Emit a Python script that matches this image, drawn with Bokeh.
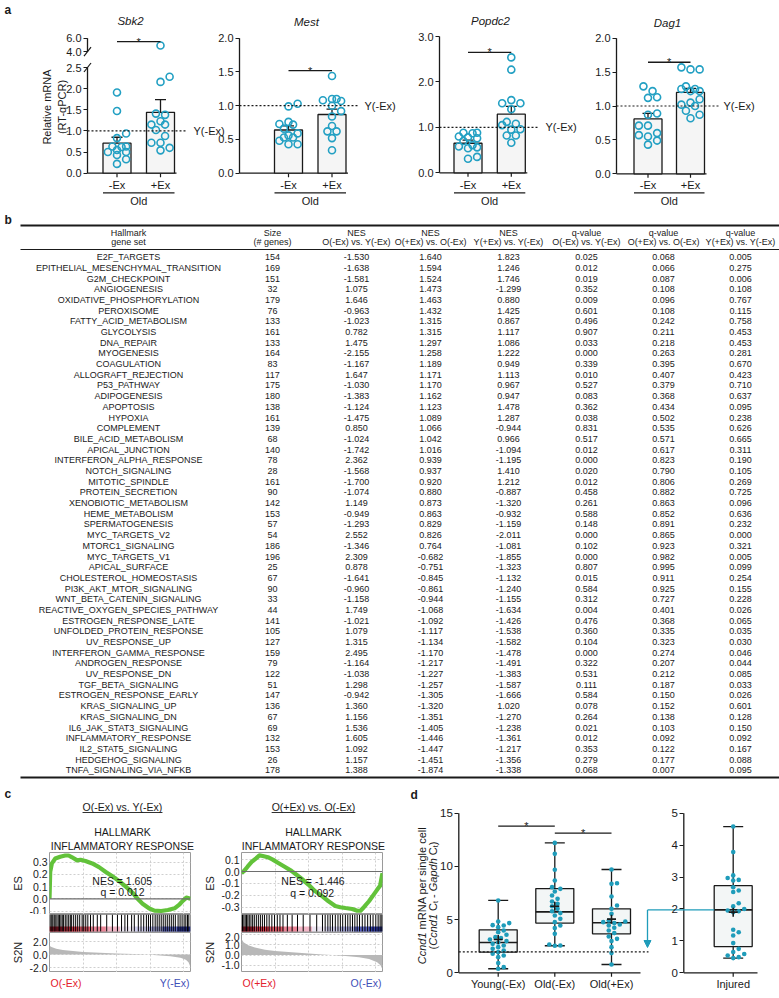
import numpy as np
from math import pi
from bokeh.plotting import figure
from bokeh.layouts import column, row
from bokeh.models import (Range1d, LinearAxis, FixedTicker, PrintfTickFormatter,
                          Span, Arrow, NormalHead)
from bokeh.core.properties import value
from bokeh.embed import file_html
from bokeh.resources import INLINE

FONT = "Liberation Sans"
INK = "#1a1a1a"
TEAL_A = "#23a0c3"
TEAL_D = "#1f9cba"

# ======================= DATA =======================
# ---- panel a : relative mRNA (RT-qPCR), Old -Ex / +Ex
a_genes = ["Sbk2", "Mest", "Popdc2", "Dag1"]
a_groups = ["-Ex", "+Ex"]
a_group_title = "Old"
young_ref_level = 1.0
young_ref_label = "Y(-Ex)"

sbk2_minus = [1.91, 1.47, 0.94, 0.83, 0.63, 0.63, 0.62, 0.55, 0.50, 0.50, 0.43, 0.33, 0.22]
sbk2_plus = [4.90, 2.28, 2.16, 1.41, 1.38, 1.23, 1.15, 1.15, 1.02, 0.88, 0.72, 0.72, 0.60, 0.54]
sbk2_mean = [0.71, 1.44]
sbk2_sem = [0.14, 0.30]

mest_minus = [1.03, 0.99, 0.76, 0.73, 0.72, 0.66, 0.59, 0.56, 0.53, 0.53, 0.48, 0.43, 0.43]
mest_plus = [1.44, 1.10, 1.10, 1.08, 1.07, 1.00, 0.92, 0.84, 0.70, 0.62, 0.62, 0.52, 0.34]
mest_mean = [0.64, 0.87]
mest_sem = [0.06, 0.08]

popdc2_minus = [0.88, 0.88, 0.87, 0.80, 0.78, 0.76, 0.70, 0.61, 0.58, 0.56, 0.54, 0.35, 0.31]
popdc2_plus = [2.54, 2.27, 1.60, 1.53, 1.53, 1.40, 1.12, 1.08, 1.05, 0.96, 0.95, 0.82, 0.82, 0.66]
popdc2_mean = [0.65, 1.29]
popdc2_sem = [0.07, 0.17]

dag1_minus = [1.29, 1.22, 1.13, 1.12, 0.89, 0.87, 0.71, 0.71, 0.60, 0.57, 0.55, 0.49, 0.43]
dag1_plus = [1.57, 1.54, 1.54, 1.29, 1.25, 1.25, 1.22, 1.22, 1.10, 1.05, 1.02, 1.00, 0.93, 0.87, 0.82]
dag1_mean = [0.81, 1.20]
dag1_sem = [0.08, 0.06]

# ---- panel b : GSEA hallmark table
b_header1 = ["Hallmark", "Size", "NES", "NES", "NES", "q-value", "q-value", "q-value"]
b_header2 = ["gene set", "(# genes)", "O(-Ex) vs. Y(-Ex)", "O(+Ex) vs. O(-Ex)", "Y(+Ex) vs. Y(-Ex)",
             "O(-Ex) vs. Y(-Ex)", "O(+Ex) vs. O(-Ex)", "Y(+Ex) vs. Y(-Ex)"]
gene_sets = ["E2F_TARGETS", "EPITHELIAL_MESENCHYMAL_TRANSITION", "G2M_CHECKPOINT", "ANGIOGENESIS",
             "OXIDATIVE_PHOSPHORYLATION", "PEROXISOME", "FATTY_ACID_METABOLISM", "GLYCOLYSIS",
             "DNA_REPAIR", "MYOGENESIS", "COAGULATION", "ALLOGRAFT_REJECTION", "P53_PATHWAY",
             "ADIPOGENESIS", "APOPTOSIS", "HYPOXIA", "COMPLEMENT", "BILE_ACID_METABOLISM",
             "APICAL_JUNCTION", "INTERFERON_ALPHA_RESPONSE", "NOTCH_SIGNALING", "MITOTIC_SPINDLE",
             "PROTEIN_SECRETION", "XENOBIOTIC_METABOLISM", "HEME_METABOLISM", "SPERMATOGENESIS",
             "MYC_TARGETS_V2", "MTORC1_SIGNALING", "MYC_TARGETS_V1", "APICAL_SURFACE",
             "CHOLESTEROL_HOMEOSTASIS", "PI3K_AKT_MTOR_SIGNALING", "WNT_BETA_CATENIN_SIGNALING",
             "REACTIVE_OXYGEN_SPECIES_PATHWAY", "ESTROGEN_RESPONSE_LATE", "UNFOLDED_PROTEIN_RESPONSE",
             "UV_RESPONSE_UP", "INTERFERON_GAMMA_RESPONSE", "ANDROGEN_RESPONSE", "UV_RESPONSE_DN",
             "TGF_BETA_SIGNALING", "ESTROGEN_RESPONSE_EARLY", "KRAS_SIGNALING_UP", "KRAS_SIGNALING_DN",
             "IL6_JAK_STAT3_SIGNALING", "INFLAMMATORY_RESPONSE", "IL2_STAT5_SIGNALING",
             "HEDGEHOG_SIGNALING", "TNFA_SIGNALING_VIA_NFKB"]
set_sizes = [154, 169, 151, 32, 179, 76, 133, 161, 133, 164, 83, 117, 175, 180, 138, 161, 139, 68, 140,
             78, 28, 161, 90, 142, 153, 57, 54, 186, 196, 25, 67, 90, 33, 44, 141, 105, 127, 159, 79,
             122, 51, 147, 136, 67, 69, 132, 153, 26, 178]
nes_oneg_vs_yneg = [-1.530, -1.638, -1.581, 1.075, 1.646, -0.963, -1.023, 0.782, 1.475, -2.155, -1.167,
                    1.647, -1.030, -1.383, -1.124, -1.475, 0.850, -1.024, -1.742, 2.362, -1.568, -1.700,
                    -1.074, 1.149, -0.949, -1.293, 2.552, -1.346, 2.309, 0.878, -1.641, -0.960, -1.158,
                    1.749, -1.021, 1.079, 1.315, 2.495, -1.164, -1.038, 1.298, -0.942, 1.360, 1.156,
                    1.536, 1.605, 1.092, 1.157, 1.388]
nes_opos_vs_oneg = [1.640, 1.594, 1.524, 1.473, 1.463, 1.432, 1.315, 1.315, 1.297, 1.258, 1.189, 1.171,
                    1.170, 1.162, 1.123, 1.089, 1.066, 1.042, 1.016, 0.939, 0.937, 0.920, 0.880, 0.873,
                    0.863, 0.829, 0.826, 0.764, -0.682, -0.751, -0.845, -0.861, -0.944, -1.068, -1.092,
                    -1.117, -1.134, -1.170, -1.217, -1.227, -1.257, -1.305, -1.320, -1.351, -1.405,
                    -1.446, -1.447, -1.451, -1.874]
nes_ypos_vs_yneg = [1.823, 1.246, 1.746, -1.299, 0.880, 1.425, 0.867, 1.117, 1.086, 1.222, 0.949, 1.113,
                    0.967, 0.947, 1.478, 1.287, -0.944, 0.966, -1.094, -1.195, 1.410, 1.212, -0.887,
                    -1.320, -0.932, -1.159, -2.011, -1.081, -1.855, -1.323, -1.132, -1.240, -1.155,
                    -1.634, -1.426, -1.538, -1.582, -1.478, -1.491, -1.383, -1.587, -1.666, 1.020,
                    -1.270, -1.238, -1.361, -1.217, -1.356, -1.338]
q_oneg_vs_yneg = [0.025, 0.012, 0.019, 0.352, 0.009, 0.601, 0.496, 0.907, 0.033, 0.000, 0.339, 0.010,
                  0.527, 0.083, 0.362, 0.038, 0.831, 0.517, 0.012, 0.000, 0.020, 0.012, 0.458, 0.261,
                  0.588, 0.148, 0.000, 0.102, 0.000, 0.807, 0.015, 0.584, 0.312, 0.004, 0.476, 0.360,
                  0.104, 0.000, 0.322, 0.531, 0.111, 0.584, 0.078, 0.264, 0.021, 0.012, 0.353, 0.279,
                  0.068]
q_opos_vs_oneg = [0.068, 0.066, 0.087, 0.108, 0.096, 0.108, 0.242, 0.211, 0.218, 0.263, 0.395, 0.407,
                  0.379, 0.368, 0.434, 0.502, 0.535, 0.571, 0.617, 0.823, 0.790, 0.806, 0.882, 0.863,
                  0.852, 0.891, 0.865, 0.923, 0.982, 0.995, 0.911, 0.925, 0.727, 0.401, 0.368, 0.335,
                  0.323, 0.274, 0.207, 0.212, 0.187, 0.150, 0.152, 0.138, 0.103, 0.092, 0.122, 0.177,
                  0.007]
q_ypos_vs_yneg = [0.005, 0.275, 0.006, 0.108, 0.767, 0.115, 0.758, 0.453, 0.453, 0.281, 0.670, 0.423,
                  0.710, 0.637, 0.095, 0.238, 0.626, 0.665, 0.311, 0.190, 0.105, 0.269, 0.725, 0.096,
                  0.636, 0.232, 0.000, 0.321, 0.005, 0.099, 0.254, 0.155, 0.228, 0.026, 0.065, 0.035,
                  0.030, 0.046, 0.044, 0.085, 0.033, 0.026, 0.601, 0.128, 0.150, 0.092, 0.167, 0.088,
                  0.095]

# ---- panel c : GSEA enrichment plots (HALLMARK INFLAMMATORY RESPONSE)
N_RANK = 21000
rank_grid = [5000, 10000, 15000, 20000]
c_titles = ["O(-Ex) vs. Y(-Ex)", "O(+Ex) vs. O(-Ex)"]
c_geneset = ["HALLMARK", "INFLAMMATORY RESPONSE"]
c_nes = ["NES = 1.605", "NES = -1.446"]
c_q = ["q = 0.012", "q = 0.092"]
c_phenos = [("O(-Ex)", "Y(-Ex)"), ("O(+Ex)", "O(-Ex)")]

es_left_rank = [0, 105, 357, 861, 1596, 2352, 2856, 3360, 4116, 4620, 5355, 6363, 7371, 8379, 9366,
                10374, 11361, 12369, 13125, 13860, 14868, 15624, 16632, 17640, 18627, 19383, 19887,
                20391, 20748, 21000]
es_left_val = [0.0, 0.22, 0.29, 0.33, 0.345, 0.355, 0.355, 0.34, 0.315, 0.32, 0.31, 0.29, 0.26, 0.22,
               0.185, 0.145, 0.10, 0.05, 0.0, -0.04, -0.08, -0.097, -0.10, -0.092, -0.078, -0.045,
               -0.015, 0.01, 0.005, 0.0]
es_right_rank = [0, 399, 903, 1512, 2163, 2667, 3171, 3927, 4662, 5418, 6426, 7434, 8190, 8946, 9954,
                 10962, 11949, 12957, 13965, 14721, 15477, 16485, 17241, 17724, 18228, 18984, 19740,
                 20244, 20643, 20853, 21000]
es_right_val = [-0.014, 0.005, 0.04, 0.08, 0.11, 0.135, 0.13, 0.12, 0.10, 0.074, 0.04, 0.005, -0.027,
                -0.06, -0.11, -0.165, -0.205, -0.25, -0.29, -0.30, -0.307, -0.315, -0.33, -0.33, -0.30,
                -0.25, -0.19, -0.15, -0.12, -0.055, -0.014]
hits_left = [200, 350, 500, 700, 850, 1100, 1300, 1500, 1700, 1900, 2100, 2350, 2600, 2860, 3100, 3300,
             3600, 3900, 4200, 4500, 4860, 5100, 5400, 5710, 6110, 6520, 7120, 7620, 8520, 9370, 10120,
             10730, 11230, 11630, 12230, 12630, 13230, 13630, 14030, 14430, 14740, 15040, 15390, 15740,
             16040, 16340, 16640, 16940, 17240, 17540, 17840, 18140, 18440, 18740, 19150, 19450, 19750,
             20050, 20300, 20550, 20750]
hits_right = [150, 350, 550, 750, 950, 1160, 1410, 1660, 1910, 2210, 2510, 2810, 3110, 3420, 3770, 4120,
              4520, 4920, 5330, 5730, 6180, 6830, 7540, 8340, 9190, 10200, 11200, 12060, 12460, 12860,
              13210, 13560, 13970, 14370, 14720, 15070, 15470, 15830, 16180, 16530, 16880, 17230, 17580,
              17990, 18390, 18790, 19190, 19590, 20000, 20350, 20650, 20900]
s2n_left_rank = [0, 300, 1000, 2000, 3500, 5000, 7500, 10000, 12500, 14000, 16000, 18000, 19500, 20300,
                 20700, 20900, 21000]
s2n_left_val = [1.35, 1.15, 0.90, 0.70, 0.52, 0.40, 0.27, 0.17, 0.08, 0.02, -0.10, -0.28, -0.50, -0.80,
                -1.20, -1.70, -2.40]
s2n_right_rank = [0, 300, 1000, 2000, 3500, 5000, 7500, 10000, 12000, 13500, 15500, 17500, 19000, 20200,
                  20700, 21000]
s2n_right_val = [1.55, 1.25, 0.95, 0.72, 0.52, 0.40, 0.26, 0.15, 0.06, 0.0, -0.10, -0.22, -0.40, -0.70,
                 -1.00, -1.40]
strip_colors = ["#d7263d", "#dd3a4c", "#e25a69", "#ea8597", "#f1b6c6", "#ece6f2", "#d1cfee", "#a9abe0",
                "#5d66c4", "#2f3aa6"]

# ---- panel d : Ccnd1 per single cell (box plots)
d_groups = ["Young(-Ex)", "Old(-Ex)", "Old(+Ex)"]
young_cells = [6.80, 4.82, 4.67, 4.48, 4.45, 4.29, 3.98, 3.82, 3.57, 3.35, 3.26, 3.13, 2.98, 2.85, 2.72,
               2.57, 2.41, 2.25, 2.10, 1.94, 1.79, 1.63, 1.47, 0.91, 0.53, 0.38]
old_neg_cells = [12.21, 11.18, 9.68, 8.68, 8.05, 7.89, 7.64, 7.27, 6.95, 6.70, 6.48, 6.26, 6.01, 5.79,
                 5.61, 5.39, 5.07, 4.76, 4.45, 4.20, 3.66, 2.66, 2.57, 2.54]
old_pos_cells = [9.71, 8.42, 8.36, 7.17, 6.33, 6.01, 5.54, 4.92, 4.82, 4.76, 4.67, 4.54, 4.45, 4.23, 3.98,
                 3.73, 3.41, 3.19, 2.98, 2.41, 1.85, 0.78]
injured_cells = [4.58, 3.78, 3.05, 2.97, 2.91, 2.89, 2.68, 2.58, 2.53, 2.18, 2.08, 2.00, 1.95, 1.93, 1.90,
                 1.35, 1.27, 1.17, 0.93, 0.75, 0.65, 0.59, 0.54, 0.49, 0.46]
# box statistics: min, q1, median, q3, max, mean
d_min = [0.38, 2.54, 0.78]
d_q1 = [1.94, 4.67, 3.66]
d_med = [2.85, 5.73, 4.70]
d_q3 = [4.04, 7.92, 6.01]
d_max = [6.80, 12.21, 9.71]
d_mean = [3.13, 6.26, 5.04]
inj_stats = dict(min=0.46, q1=0.82, med=1.97, q3=2.73, max=4.58, mean=1.90)
inj_label = "Injured"

# ======================= HELPERS =======================
CW = {' ': 278, '(': 333, ')': 333, '-': 333, '.': 278, '=': 584, '+': 584, '#': 556, '_': 556,
      'A': 667, 'B': 667, 'C': 722, 'D': 722, 'E': 667, 'F': 611, 'G': 778, 'H': 722, 'I': 278,
      'K': 667, 'L': 556, 'M': 833, 'N': 722, 'O': 778, 'P': 667, 'Q': 778, 'R': 722, 'S': 667,
      'T': 611, 'U': 722, 'V': 667, 'W': 944, 'X': 667, 'Y': 667, 'a': 556, 'b': 556, 'c': 500,
      'd': 556, 'e': 556, 'f': 278, 'g': 556, 'h': 556, 'i': 222, 'j': 222, 'k': 500, 'l': 222,
      'm': 833, 'n': 556, 'o': 556, 'p': 556, 'q': 556, 'r': 333, 's': 500, 't': 278, 'u': 556,
      'v': 500, 'w': 722, 'x': 500, 'y': 500, 'z': 500}


def textw(s, px):
    return sum(CW.get(ch, 556) for ch in s) / 1000.0 * px


def canvas(x0, x1, y0, y1):
    p = figure(width=x1 - x0, height=y1 - y0, x_range=Range1d(x0, x1), y_range=Range1d(-y1, -y0),
               x_axis_location=None, y_axis_location=None, output_backend="svg",
               toolbar_location=None, min_border_left=0, min_border_right=0,
               min_border_top=0, min_border_bottom=0)
    p.outline_line_color = None
    p.grid.visible = False
    return p


def txt(p, x, y, s, size="11px", align="center", style="normal", color=INK, angle=0.0,
        baseline="middle"):
    p.text(x=[x], y=[-y], text=[s], text_font=value(FONT), text_font_size=size,
           text_align=align, text_baseline=baseline, text_font_style=style,
           text_color=color, angle=angle)


def seg(p, x0, y0, x1, y1, color=INK, width=1.3, dash="solid"):
    p.segment(x0=[x0], y0=[-y0], x1=[x1], y1=[-y1], line_color=color, line_width=width,
              line_dash=dash)


def swarm(py, center, diam, limit):
    step = diam * 0.6
    cands = [0.0]
    k = 1
    while k * step <= limit:
        cands += [k * step, -k * step]
        k += 1
    placed, out = [], [0.0] * len(py)
    for i in sorted(range(len(py)), key=lambda j: py[j]):
        y = py[i]
        best = None
        for dx in cands:
            if all((dx - qx) ** 2 + (y - qy) ** 2 >= diam ** 2 for qx, qy in placed):
                best = dx
                break
        if best is None:
            best = max(cands, key=lambda dx: min(((dx - qx) ** 2 + (y - qy) ** 2) for qx, qy in placed))
        placed.append((best, y))
        out[i] = center + best
    return out


def y_axis(rname, loc, ticks, labels, size="11px", tick_out=4):
    return LinearAxis(y_range_name=rname, fixed_location=loc, ticker=FixedTicker(ticks=ticks),
                      major_label_overrides={t: l for t, l in zip(ticks, labels)},
                      axis_line_color=None, major_tick_out=tick_out, major_tick_in=0,
                      minor_tick_out=0, minor_tick_in=0, major_tick_line_color=INK,
                      major_tick_line_width=1.2, major_label_text_font=FONT,
                      major_label_text_font_size=size, major_label_text_color=INK,
                      major_label_standoff=2)


# ======================= PANEL A =======================
SBK2_GAP, SBK2_UP = 0.378, 0.157


def sbk2_t(v):
    return v if v <= 2.5 else 2.5 + SBK2_GAP + (v - 4.0) * SBK2_UP


def ident(v):
    return v


A_SPEC = {
    "Sbk2": dict(axis=87, c=(116.5, 160.0), zero=172.7, ppu=42.28, ticks=[0, 0.5, 1, 1.5, 2, 2.5, 4, 6],
                 dot_end=185, lab_x=193, tx=130, ty=20.7, sig=5.5, T=sbk2_t),
    "Mest": dict(axis=239, c=(288.0, 331.5), zero=172.7, ppu=67.5, ticks=[0, 0.5, 1, 1.5, 2],
                 dot_end=358, lab_x=364, tx=306, ty=21, sig=1.52, T=ident),
    "Popdc2": dict(axis=439, c=(467.5, 510.8), zero=172.3, ppu=45.43, ticks=[0, 1, 2, 3],
                   dot_end=537, lab_x=545, tx=490, ty=20, sig=2.65, T=ident),
    "Dag1": dict(axis=616, c=(647.5, 690.0), zero=173.3, ppu=67.8, ticks=[0, 0.5, 1, 1.5, 2],
                 dot_end=718, lab_x=723, tx=667, ty=22, sig=1.645, T=ident),
}
A_DATA = {"Sbk2": (sbk2_minus, sbk2_plus, sbk2_mean, sbk2_sem),
          "Mest": (mest_minus, mest_plus, mest_mean, mest_sem),
          "Popdc2": (popdc2_minus, popdc2_plus, popdc2_mean, popdc2_sem),
          "Dag1": (dag1_minus, dag1_plus, dag1_mean, dag1_sem)}

A_TOP, A_BOT = 0, 205
pa = canvas(0, 779, A_TOP, A_BOT)
txt(pa, 4, 9, "a", size="12px", style="bold", align="left")
extra = {}
for g in a_genes:
    s = A_SPEC[g]
    extra[g] = Range1d((s["zero"] - A_BOT) / s["ppu"], (s["zero"] - A_TOP) / s["ppu"])
pa.extra_y_ranges = extra

BW = 28
for g in a_genes:
    s, T = A_SPEC[g], A_SPEC[g]["T"]
    minus, plus, mean, sem = A_DATA[g]
    ax_x, c, ppu = s["axis"], s["c"], s["ppu"]
    ticks_t = [T(v) for v in s["ticks"]]
    pa.add_layout(y_axis(g, ax_x, ticks_t, ["%.1f" % v for v in s["ticks"]]), "left")
    if g == "Sbk2":
        pa.segment(x0=[ax_x, ax_x], y0=[0, T(4.0)], x1=[ax_x, ax_x], y1=[2.5, T(6.0)], y_range_name=g,
                   line_color=INK, line_width=1.3)
        for v in (2.5, 4.0):
            py = s["zero"] - T(v) * ppu
            seg(pa, ax_x - 3.5, py + 4.5, ax_x + 3.5, py - 4.5, width=1.2)
    else:
        pa.segment(x0=[ax_x], y0=[0], x1=[ax_x], y1=[T(s["ticks"][-1])], y_range_name=g,
                   line_color=INK, line_width=1.3)
    # x axis line + ticks
    pa.segment(x0=[ax_x], y0=[0], x1=[c[1] + BW / 2 + 2], y1=[0], y_range_name=g,
               line_color=INK, line_width=1.3)
    pa.segment(x0=list(c), y0=[0, 0], x1=list(c), y1=[-4 / ppu] * 2, y_range_name=g,
               line_color=INK, line_width=1.2)
    # bars + SEM
    pa.vbar(x=list(c), top=[T(m) for m in mean], bottom=0, width=BW, y_range_name=g,
            fill_color="#f5f5f5", line_color=INK, line_width=1.3)
    tops = [T(m + e) for m, e in zip(mean, sem)]
    pa.segment(x0=list(c), y0=[T(m) for m in mean], x1=list(c), y1=tops, y_range_name=g,
               line_color=INK, line_width=1.3)
    pa.segment(x0=[ci - 5.5 for ci in c], y0=tops, x1=[ci + 5.5 for ci in c], y1=tops, y_range_name=g,
               line_color=INK, line_width=1.3)
    # points
    for ci, vals in zip(c, (minus, plus)):
        xs = swarm([T(v) * ppu for v in vals], ci, 7.6, 12.5)
        pa.scatter(x=xs, y=[T(v) for v in vals], size=7, marker="circle", fill_color=None,
                   line_color=TEAL_A, line_width=1.6, y_range_name=g)
    # young reference
    pa.segment(x0=[ax_x], y0=[T(young_ref_level)], x1=[s["dot_end"]], y1=[T(young_ref_level)],
               y_range_name=g, line_color=INK, line_width=1.2, line_dash="2 2")
    pa.text(x=[s["lab_x"]], y=[T(young_ref_level)], text=[young_ref_label], y_range_name=g,
            text_font=value(FONT), text_font_size="11px", text_align="left", text_baseline="middle",
            text_color=INK)
    # significance
    sy = T(s["sig"])
    pa.segment(x0=[c[0]], y0=[sy], x1=[c[1]], y1=[sy], y_range_name=g, line_color=INK, line_width=1.3)
    pa.text(x=[(c[0] + c[1]) / 2], y=[sy], text=["*"], y_range_name=g, text_font=value(FONT),
            text_font_size="11px", text_align="center", text_baseline="alphabetic", text_color=INK)
    # category labels + group bracket
    for ci, lab in zip(c, a_groups):
        txt(pa, ci, 184, lab)
    seg(pa, c[0] - BW / 2, 192.3, c[1] + BW / 2, 192.3, width=1.3)
    txt(pa, (c[0] + c[1]) / 2, 200, a_group_title)
    txt(pa, s["tx"], s["ty"], g, size="11.5px", style="italic")

txt(pa, 46.7, 106.5, "Relative mRNA", angle=pi / 2)
txt(pa, 61.7, 106.5, "(RT-qPCR)", angle=pi / 2)

# ======================= PANEL B (table) =======================
ROW0, ROWSTEP = 256.7, 10.69
def rowy(px):
    return (px - ROW0) / ROWSTEP

pb = figure(width=779, height=580, x_range=Range1d(0, 779),
            y_range=Range1d(rowy(785), rowy(205)), x_axis_location=None, y_axis_location=None,
            output_backend="svg", toolbar_location=None, min_border_left=0, min_border_right=0,
            min_border_top=0, min_border_bottom=0)
pb.outline_line_color = None
pb.grid.visible = False
col_x = [128, 272, 356, 430, 508, 586, 663, 740]
cols = [gene_sets, [str(v) for v in set_sizes]] + [["%.3f" % v for v in arr] for arr in
        (nes_oneg_vs_yneg, nes_opos_vs_oneg, nes_ypos_vs_yneg, q_oneg_vs_yneg, q_opos_vs_oneg,
         q_ypos_vs_yneg)]
rows_idx = list(range(len(gene_sets)))
for cx, texts, h1, h2 in zip(col_x, cols, b_header1, b_header2):
    pb.text(x=[cx] * len(texts), y=rows_idx, text=texts, text_font=value(FONT), text_font_size="9px",
            text_align="center", text_baseline="middle", text_color=INK)
    pb.text(x=[cx, cx], y=[rowy(232), rowy(241.7)], text=[h1, h2], text_font=value(FONT),
            text_font_size="9px", text_align="center", text_baseline="middle", text_color=INK)
pb.segment(x0=[20, 20, 20], y0=[rowy(225), rowy(249), rowy(777)], x1=[779, 779, 779],
           y1=[rowy(225), rowy(249), rowy(777)], line_color=INK, line_width=[2.0, 1.2, 2.0])
pb.text(x=[4], y=[rowy(219)], text=["b"], text_font=value(FONT), text_font_size="12px",
        text_font_style="bold", text_align="left", text_baseline="middle", text_color=INK)

# ======================= PANEL C (GSEA) =======================
pc_head = canvas(0, 395, 785, 852)
txt(pc_head, 4, 793, "c", size="12px", style="bold", align="left")
for cx, ttl in zip((122, 313), c_titles):
    txt(pc_head, cx, 806, ttl, size="10.5px")
    w = textw(ttl, 10.5)
    seg(pc_head, cx - w / 2, 812, cx + w / 2, 812, width=0.9)
    txt(pc_head, cx, 831.7, c_geneset[0], size="10.5px")
    txt(pc_head, cx, 845, c_geneset[1], size="10.5px")


def gsea_fig(width, height, yr, lb, rb, yticks=None, label=None):
    p = figure(width=width, height=height, x_range=Range1d(0, N_RANK), y_range=Range1d(*yr),
               output_backend="svg", toolbar_location=None,
               x_axis_location="below", y_axis_location=("left" if yticks else None),
               min_border_left=lb, min_border_right=rb, min_border_top=0, min_border_bottom=0)
    p.xaxis.visible = False
    p.outline_line_color = "#9a9a9a"
    if yticks:
        p.xaxis.ticker = FixedTicker(ticks=rank_grid)
        p.xgrid.ticker = FixedTicker(ticks=rank_grid)
        p.yaxis.ticker = FixedTicker(ticks=yticks)
        p.ygrid.ticker = FixedTicker(ticks=yticks)
        p.yaxis.formatter = PrintfTickFormatter(format="%.1f")
        p.yaxis.axis_line_color = None
        p.yaxis.major_tick_out = 0
        p.yaxis.major_tick_in = 0
        p.yaxis.minor_tick_out = 0
        p.yaxis.minor_tick_in = 0
        p.yaxis.major_label_standoff = 2
        p.yaxis.major_label_text_font = FONT
        p.yaxis.major_label_text_font_size = "10.5px"
        p.yaxis.major_label_text_color = INK
        p.yaxis.axis_label = label
        p.yaxis.axis_label_text_font = FONT
        p.yaxis.axis_label_text_font_size = "11px"
        p.yaxis.axis_label_text_font_style = "normal"
        p.yaxis.axis_label_text_color = INK
        p.yaxis.axis_label_standoff = 2
        p.grid.grid_line_color = "#cfcfcf"
        p.grid.grid_line_dash = "2 2"
    else:
        p.grid.visible = False
    return p


def es_panel(width, lb, rb, yr, ticks, rank, es, nes, q, nes_pos, q_pos):
    p = gsea_fig(width, 62, yr, lb, rb, ticks, "ES")
    p.add_layout(Span(location=0, dimension="width", line_color="#6e6e6e", line_width=1.2))
    p.line(rank, es, line_color="#62c23a", line_width=4.2, line_join="round")
    p.text(x=[nes_pos[0], q_pos[0]], y=[nes_pos[1], q_pos[1]], text=[nes, q], text_font=value(FONT),
           text_font_size="10.5px", text_align="center", text_baseline="middle", text_color=INK)
    return p


def hit_panel(width, lb, rb, hits):
    p = gsea_fig(width, 18, (0, 1), lb, rb)
    edges = np.linspace(0, N_RANK, len(strip_colors) + 1)
    p.quad(left=edges[:-1], right=edges[1:], bottom=0.06, top=0.33, fill_color=strip_colors,
           line_color=None)
    p.segment(x0=hits, y0=0.06, x1=hits, y1=1.0, line_color="black", line_width=1.0)
    return p


def s2n_panel(width, lb, rb, yr, ticks, rank, val):
    p = gsea_fig(width, 40, yr, lb, rb, ticks, "S2N")
    p.varea(x=rank, y1=[0] * len(rank), y2=val, fill_color="#b8b8b8")
    return p


es_l = es_panel(200, 49, 10, (-(914 - 898.3) / 122, (898.3 - 852) / 122), [-0.1, 0.0, 0.1, 0.2, 0.3],
                es_left_rank, es_left_val, c_nes[0], c_q[0], (10830, 0.150), (10870, 0.052))
es_r = es_panel(195, 41, 13, (-(914 - 871) / 119, (871 - 852) / 119), [-0.3, -0.2, -0.1, 0.0, 0.1],
                es_right_rank, es_right_val, c_nes[1], c_q[1], (10650, -0.076), (10525, -0.179))
hit_l = hit_panel(200, 49, 10, hits_left)
hit_r = hit_panel(195, 41, 13, hits_right)
s2n_l = s2n_panel(200, 49, 10, (-(972 - 954) / 6.5, (954 - 932) / 6.5), [-2, 0, 2],
                  s2n_left_rank, s2n_left_val)
s2n_r = s2n_panel(195, 41, 13, (-(972 - 954.5) / 10.3, (954.5 - 932) / 10.3), [-1, 0, 1, 2],
                  s2n_right_rank, s2n_right_val)

pc_foot = canvas(0, 395, 972, 998)
RED, BLUE = "#e3202d", "#3f4fb8"
for (lo, hi), (fl, fr) in zip(c_phenos, ((49, 190), (241, 382))):
    txt(pc_foot, fl + 1, 982, lo, size="10.5px", align="left", color=RED)
    txt(pc_foot, fr - 1, 982, hi, size="10.5px", align="right", color=BLUE)

# ======================= PANEL D (box plots) =======================
D_TOP, D_BOT = 785, 998
pd = canvas(395, 779, D_TOP, D_BOT)
D_ZERO, D_PPU, I_PPU = 972.3, 10.64, 31.93
pd.extra_y_ranges = {"ccnd": Range1d((D_ZERO - D_BOT) / D_PPU, (D_ZERO - D_TOP) / D_PPU),
                     "inj": Range1d((D_ZERO - D_BOT) / I_PPU, (D_ZERO - D_TOP) / I_PPU)}
L_AX, R_AX = 458.3, 683.3
d_x = [497.7, 554.3, 611.0]
inj_x = 732.7
BOXW = 38
txt(pd, 410, 794, "d", size="12px", style="bold", align="left")

lt = [0, 5, 10, 15]
pd.add_layout(y_axis("ccnd", L_AX, lt, [str(t) for t in lt], size="11.5px"), "left")
rt = [0, 1, 2, 3, 4, 5]
pd.add_layout(y_axis("inj", R_AX, rt, [str(t) for t in rt], size="11.5px"), "left")
pd.segment(x0=[L_AX], y0=[0], x1=[L_AX], y1=[lt[-1]], y_range_name="ccnd", line_color=INK, line_width=1.3)
pd.segment(x0=[R_AX], y0=[0], x1=[R_AX], y1=[rt[-1]], y_range_name="inj", line_color=INK, line_width=1.3)
pd.segment(x0=[L_AX], y0=[0], x1=[640], y1=[0], y_range_name="ccnd", line_color=INK, line_width=1.3)
pd.segment(x0=[R_AX], y0=[0], x1=[757], y1=[0], y_range_name="inj", line_color=INK, line_width=1.3)
pd.segment(x0=d_x, y0=[0] * 3, x1=d_x, y1=[-4 / D_PPU] * 3, y_range_name="ccnd", line_color=INK,
           line_width=1.2)
pd.segment(x0=[inj_x], y0=[0], x1=[inj_x], y1=[-4 / I_PPU], y_range_name="inj", line_color=INK,
           line_width=1.2)
for cx, lab in zip(d_x, d_groups):
    txt(pd, cx, 983.3, lab, size="11px")
txt(pd, inj_x, 983.3, inj_label, size="11px")


def boxes(rname, xs, mn, q1, md, q3, mx, mean, sets, ppu):
    pd.vbar(x=xs, bottom=q1, top=q3, width=BOXW, y_range_name=rname, fill_color="#f3f6f6",
            line_color=INK, line_width=1.3)
    pd.segment(x0=xs, y0=q3, x1=xs, y1=mx, y_range_name=rname, line_color=INK, line_width=1.3)
    pd.segment(x0=xs, y0=q1, x1=xs, y1=mn, y_range_name=rname, line_color=INK, line_width=1.3)
    for ys in (mn, mx):
        pd.segment(x0=[x - 10 for x in xs], y0=ys, x1=[x + 10 for x in xs], y1=ys, y_range_name=rname,
                   line_color=INK, line_width=1.3)
    pd.segment(x0=[x - BOXW / 2 for x in xs], y0=md, x1=[x + BOXW / 2 for x in xs], y1=md,
               y_range_name=rname, line_color=INK, line_width=1.6)
    for x, vals in zip(xs, sets):
        px = swarm([v * ppu for v in vals], x, 4.6, 15)
        pd.scatter(x=px, y=vals, size=4.6, marker="circle", fill_color=TEAL_D, line_color=None,
                   y_range_name=rname)
    pd.scatter(x=xs, y=mean, marker="cross", size=9, line_color=INK, line_width=1.6, y_range_name=rname)


boxes("ccnd", d_x, d_min, d_q1, d_med, d_q3, d_max, d_mean,
      (young_cells, old_neg_cells, old_pos_cells), D_PPU)
boxes("inj", [inj_x], [inj_stats["min"]], [inj_stats["q1"]], [inj_stats["med"]], [inj_stats["q3"]],
      [inj_stats["max"]], [inj_stats["mean"]], (injured_cells,), I_PPU)

# injured median carried to the left scale
pd.segment(x0=[L_AX], y0=[inj_stats["med"]], x1=[648], y1=[inj_stats["med"]], y_range_name="ccnd",
           line_color=INK, line_width=1.2, line_dash="2 2")
pd.segment(x0=[647], y0=[inj_stats["med"]], x1=[inj_x - BOXW / 2], y1=[inj_stats["med"]],
           y_range_name="inj", line_color=TEAL_D, line_width=1.3)
py_med = D_ZERO - inj_stats["med"] * I_PPU
pd.add_layout(Arrow(end=NormalHead(size=7, fill_color=TEAL_D, line_color=TEAL_D), x_start=647,
                    y_start=-py_med, x_end=647, y_end=-947, line_color=TEAL_D, line_width=1.3))

# significance
pd.segment(x0=[d_x[0], d_x[1]], y0=[13.78, 13.12], x1=[d_x[1], d_x[2]], y1=[13.78, 13.12],
           y_range_name="ccnd", line_color=INK, line_width=1.3)
pd.text(x=[(d_x[0] + d_x[1]) / 2, (d_x[1] + d_x[2]) / 2], y=[13.78, 13.12], text=["*", "*"],
        y_range_name="ccnd", text_font=value(FONT), text_font_size="11px", text_align="center",
        text_baseline="alphabetic", text_color=INK)


# rotated axis label with italics / subscripts (spaces handled by offsets, SVG trims them)
def rot_line(p, x, yc, pieces, size=11.0):
    total = sum(textw(s, size * (0.65 if sub else 1.0)) for s, st, sub in pieces)
    y = -yc - total / 2
    for s, st, sub in pieces:
        fs = size * (0.65 if sub else 1.0)
        lead = len(s) - len(s.lstrip(" "))
        p.text(x=[x + (2.5 if sub else 0)], y=[y + textw(" " * lead, fs)], text=[s.strip()],
               text_font=value(FONT), text_font_size="%.1fpx" % fs, text_font_style=st,
               text_align="left", text_baseline="middle", text_color=INK, angle=pi / 2)
        y += textw(s, fs)


rot_line(pd, 421.7, 895, [("Ccnd1", "italic", False), (" mRNA per single cell", "normal", False)])
rot_line(pd, 432.5, 895, [("(", "normal", False), ("Ccnd1", "italic", False), (" C", "normal", False),
                          ("t", "normal", True), (" - ", "normal", False), ("Gapdh", "italic", False),
                          (" C", "normal", False), ("t", "normal", True), (")", "normal", False)])

# ======================= LAYOUT =======================
panel_c = column(pc_head, row(column(es_l, hit_l, s2n_l), column(es_r, hit_r, s2n_r)), pc_foot)
page = column(pa, pb, row(panel_c, pd))
open("out.html", "w").write(file_html(page, INLINE))
